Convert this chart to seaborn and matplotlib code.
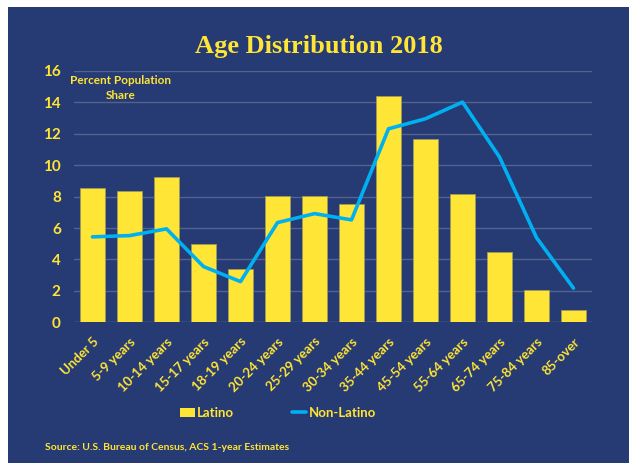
import pandas as pd
import seaborn as sns
import matplotlib.pyplot as plt
from matplotlib.patches import Patch, Rectangle
from matplotlib.lines import Line2D

# Datos (porcentaje de la población por grupo de edad)
age_groups = ['Under 5', '5-9 years', '10-14 years', '15-17 years', '18-19 years',
              '20-24 years', '25-29 years', '30-34 years', '35-44 years', '45-54 years',
              '55-64 years', '65-74 years', '75-84 years', '85-over']
latino = [8.54, 8.39, 9.22, 4.99, 3.42, 8.07, 8.07, 7.54, 14.40, 11.70, 8.18, 4.48, 2.08, 0.76]
non_latino = [5.44, 5.52, 5.95, 3.55, 2.59, 6.35, 6.92, 6.52, 12.32, 12.96, 14.02, 10.52, 5.39, 2.17]
y_ticks = [0, 2, 4, 6, 8, 10, 12, 14, 16]

df = pd.DataFrame({'age': age_groups, 'Latino': latino, 'Non-Latino': non_latino})

navy = '#263A74'
yellow = '#FFE535'
blue = '#00B0F0'
grid_col = '#52638F'

sns.set_theme(style='white')
plt.rcParams['font.family'] = ['Lato', 'DejaVu Sans']

fig = plt.figure(figsize=(6.29, 4.63), dpi=100, facecolor='white')
# fondo azul con borde blanco arriba e izquierda
fig.patches.append(Rectangle((8 / 629, 0), 1, 1 - 7 / 463, transform=fig.transFigure,
                             facecolor=navy, edgecolor='none', zorder=-10))

ax = fig.add_axes([74 / 629, 1 - 322.3 / 463, (592 - 74) / 629, (322.3 - 71) / 463])
ax.set_facecolor(navy)

sns.barplot(data=df, x='age', y='Latino', color=yellow, width=0.66, saturation=1,
            edgecolor='#A09A5A', linewidth=0.6, ax=ax, zorder=3)
sns.lineplot(data=df, x='age', y='Non-Latino', color=blue, linewidth=2.6, ax=ax,
             sort=False, zorder=4)

ax.set_xlim(-0.5, len(age_groups) - 0.5)
ax.set_ylim(0, 16)
ax.set_yticks(y_ticks)
ax.yaxis.grid(True, color=grid_col, linewidth=1)
ax.set_axisbelow(True)
for s in ax.spines.values():
    s.set_visible(False)
ax.axhline(0, color=grid_col, linewidth=1, zorder=2)

ax.set_xlabel('')
ax.set_ylabel('')
ax.tick_params(axis='y', colors=yellow, labelsize=11, length=0, pad=9.5)
ax.tick_params(axis='x', colors=yellow, labelsize=9.5, length=0, pad=9.5)
for lbl in ax.get_yticklabels():
    lbl.set_fontweight('bold')
for lbl in ax.get_xticklabels():
    lbl.set_fontweight('bold')
    lbl.set_rotation(45)
    lbl.set_ha('right')
    lbl.set_rotation_mode('anchor')

ax.text(0.09, 0.985, 'Percent Population\nShare', transform=ax.transAxes, color=yellow,
        fontsize=8.5, fontweight='bold', ha='center', va='top', linespacing=1.5)

fig.text(0.507, 1 - 46 / 463, 'Age Distribution 2018', color=yellow, fontsize=19,
         fontweight='bold', family='Liberation Serif', ha='center', va='center')

handles = [Patch(facecolor=yellow, edgecolor='none', label='Latino'),
           Line2D([0], [0], color=blue, linewidth=2.6, label='Non-Latino')]
fig.legend(handles=handles, loc='center', bbox_to_anchor=(0.442, 1 - 413 / 463), ncol=2,
           frameon=False, columnspacing=4.4, handlelength=1.1, handleheight=0.75,
           handletextpad=0.15, prop={'weight': 'bold', 'size': 9.5}, labelcolor=yellow)

fig.text(45 / 629, 1 - 448 / 463, 'Source: U.S. Bureau of Census, ACS 1-year Estimates',
         color=yellow, fontsize=7.5, fontweight='bold', ha='left', va='center')

fig.savefig('out.png', dpi=100, facecolor='white')
